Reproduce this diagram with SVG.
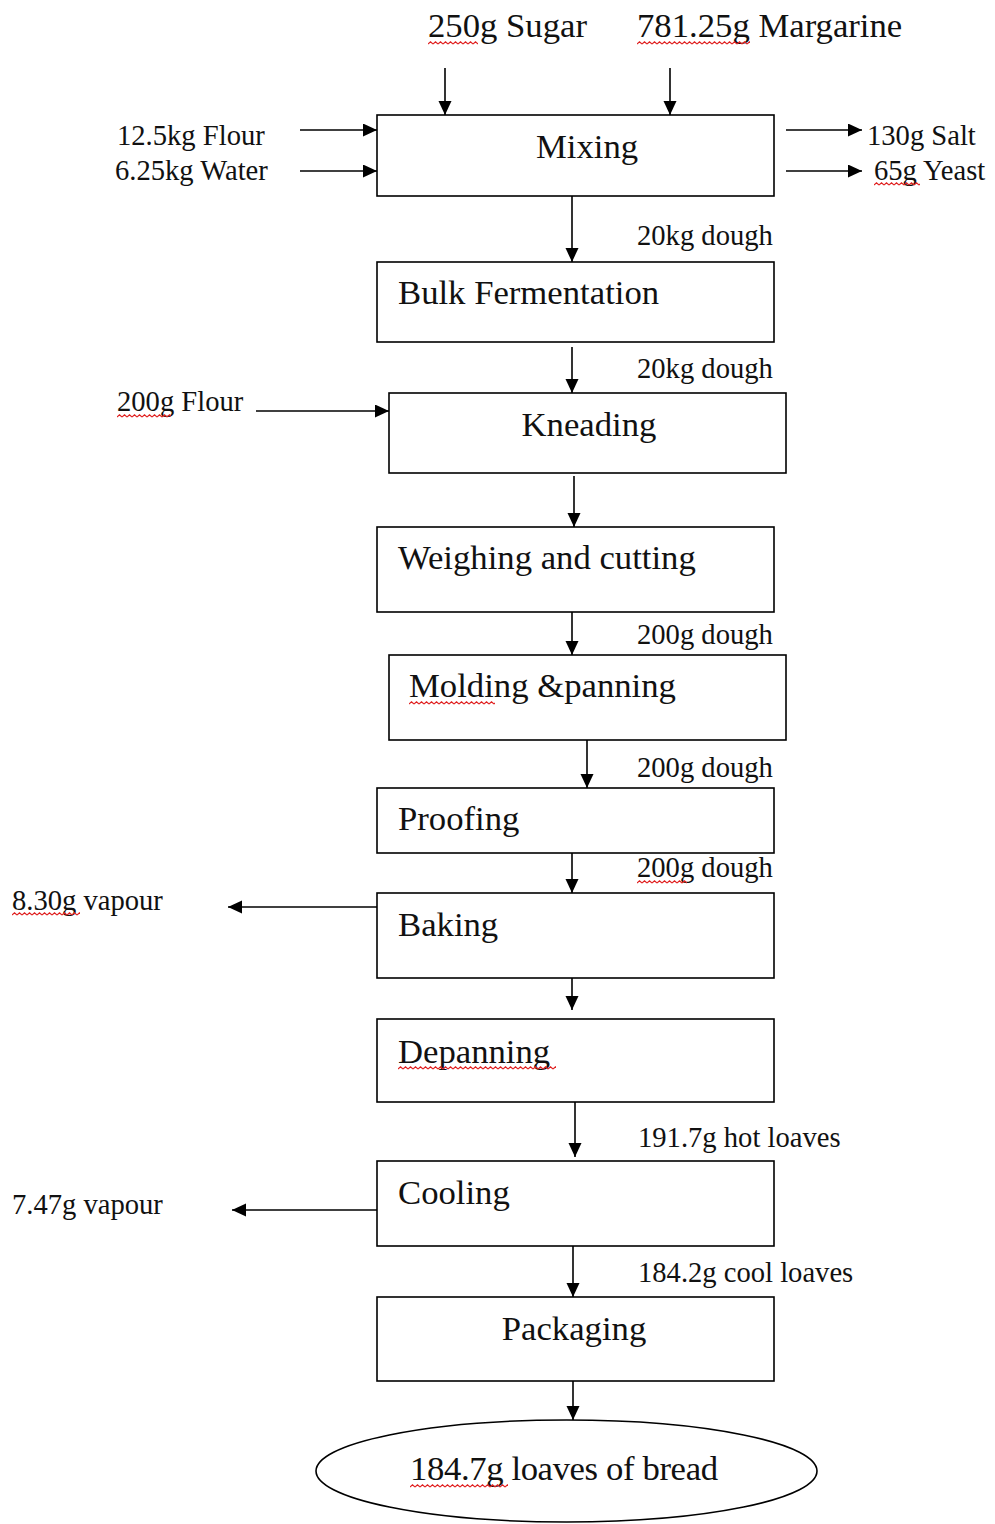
<svg xmlns="http://www.w3.org/2000/svg" width="995" height="1524" viewBox="0 0 995 1524">
<style>
.box{fill:#fff;stroke:#000;stroke-width:1.6}
.big{font-family:"Liberation Serif","Times New Roman",serif;font-size:34.7px;fill:#111}
.sm{font-family:"Liberation Serif","Times New Roman",serif;font-size:28.6px;fill:#111}
.ln{stroke:#000;stroke-width:1.6;fill:none}
</style>
<defs>
<marker id="ah" markerUnits="userSpaceOnUse" markerWidth="16" markerHeight="14" refX="14" refY="6.5" orient="auto">
<path d="M0,0 L14,6.5 L0,13 Z" fill="#000"/>
</marker>
<pattern id="sq" patternUnits="userSpaceOnUse" width="5" height="4">
<path d="M0,3 L2.5,0.8 L5,3" stroke="#e02020" stroke-width="1.1" fill="none"/>
</pattern>
</defs>
<rect width="995" height="1524" fill="#fff"/>

<g id="connectors">
<line class="ln" x1="445" y1="68" x2="445" y2="115" marker-end="url(#ah)"/>
<line class="ln" x1="670" y1="68" x2="670" y2="115" marker-end="url(#ah)"/>
<line class="ln" x1="300" y1="130" x2="377" y2="130" marker-end="url(#ah)"/>
<line class="ln" x1="300" y1="171" x2="377" y2="171" marker-end="url(#ah)"/>
<line class="ln" x1="786" y1="130" x2="862" y2="130" marker-end="url(#ah)"/>
<line class="ln" x1="786" y1="171" x2="862" y2="171" marker-end="url(#ah)"/>
<line class="ln" x1="572" y1="185" x2="572" y2="262" marker-end="url(#ah)"/>
<line class="ln" x1="572" y1="347" x2="572" y2="393" marker-end="url(#ah)"/>
<line class="ln" x1="256" y1="411" x2="389" y2="411" marker-end="url(#ah)"/>
<line class="ln" x1="574" y1="476" x2="574" y2="527" marker-end="url(#ah)"/>
<line class="ln" x1="572" y1="608" x2="572" y2="655" marker-end="url(#ah)"/>
<line class="ln" x1="587" y1="736" x2="587" y2="788" marker-end="url(#ah)"/>
<line class="ln" x1="572" y1="833" x2="572" y2="893" marker-end="url(#ah)"/>
<line class="ln" x1="380" y1="907" x2="228" y2="907" marker-end="url(#ah)"/>
<line class="ln" x1="572" y1="940" x2="572" y2="1010" marker-end="url(#ah)"/>
<line class="ln" x1="575" y1="1095" x2="575" y2="1157" marker-end="url(#ah)"/>
<line class="ln" x1="377" y1="1210" x2="232" y2="1210" marker-end="url(#ah)"/>
<line class="ln" x1="573" y1="1226" x2="573" y2="1297" marker-end="url(#ah)"/>
<line class="ln" x1="573" y1="1376" x2="573" y2="1420" marker-end="url(#ah)"/>
</g>

<g id="mixing"><rect class="box" x="377" y="115" width="397" height="81"/><text class="big" x="587" y="158" text-anchor="middle">Mixing</text></g>
<g id="bulk"><rect class="box" x="377" y="262" width="397" height="80"/><text class="big" x="398" y="304">Bulk Fermentation</text></g>
<g id="kneading"><rect class="box" x="389" y="393" width="397" height="80"/><text class="big" x="589" y="436" text-anchor="middle">Kneading</text></g>
<g id="weighing"><rect class="box" x="377" y="527" width="397" height="85"/><text class="big" x="398" y="569">Weighing and cutting</text></g>
<g id="molding"><rect class="box" x="389" y="655" width="397" height="85"/><text class="big" x="409" y="697">Molding &amp;panning</text></g>
<g id="proofing"><rect class="box" x="377" y="788" width="397" height="65"/><text class="big" x="398" y="830">Proofing</text></g>
<g id="baking"><rect class="box" x="377" y="893" width="397" height="85"/><text class="big" x="398" y="936">Baking</text></g>
<g id="depanning"><rect class="box" x="377" y="1019" width="397" height="83"/><text class="big" x="398" y="1063">Depanning</text></g>
<g id="cooling"><rect class="box" x="377" y="1161" width="397" height="85"/><text class="big" x="398" y="1204">Cooling</text></g>
<g id="packaging"><rect class="box" x="377" y="1297" width="397" height="84"/><text class="big" x="574" y="1340" text-anchor="middle">Packaging</text></g>
<g id="product"><ellipse class="box" cx="566.5" cy="1471" rx="250.5" ry="51"/><text class="big" x="410" y="1480" textLength="308" lengthAdjust="spacing">184.7g loaves of bread</text></g>

<g id="labels">
<text class="big" x="428" y="37">250g Sugar</text>
<text class="big" x="637" y="37">781.25g Margarine</text>
<text class="sm" x="117" y="145">12.5kg Flour</text>
<text class="sm" x="115" y="180">6.25kg Water</text>
<text class="sm" x="867" y="145">130g Salt</text>
<text class="sm" x="874" y="180">65g Yeast</text>
<text class="sm" x="637" y="245">20kg dough</text>
<text class="sm" x="637" y="378">20kg dough</text>
<text class="sm" x="117" y="411">200g Flour</text>
<text class="sm" x="637" y="644">200g dough</text>
<text class="sm" x="637" y="777">200g dough</text>
<text class="sm" x="637" y="877">200g dough</text>
<text class="sm" x="12" y="910">8.30g vapour</text>
<text class="sm" x="638" y="1147">191.7g hot loaves</text>
<text class="sm" x="12" y="1214">7.47g vapour</text>
<text class="sm" x="638" y="1282">184.2g cool loaves</text>
</g>

<g id="spellcheck-marks">
<g transform="translate(428,41)"><rect width="50" height="4" fill="url(#sq)"/></g>
<g transform="translate(637,41)"><rect width="113" height="4" fill="url(#sq)"/></g>
<g transform="translate(874,182)"><rect width="46" height="4" fill="url(#sq)"/></g>
<g transform="translate(117,414)"><rect width="54" height="4" fill="url(#sq)"/></g>
<g transform="translate(409,701)"><rect width="86" height="4" fill="url(#sq)"/></g>
<g transform="translate(637,880)"><rect width="50" height="4" fill="url(#sq)"/></g>
<g transform="translate(12,912)"><rect width="68" height="4" fill="url(#sq)"/></g>
<g transform="translate(398,1066)"><rect width="158" height="4" fill="url(#sq)"/></g>
<g transform="translate(410,1484)"><rect width="98" height="4" fill="url(#sq)"/></g>
</g>
</svg>
